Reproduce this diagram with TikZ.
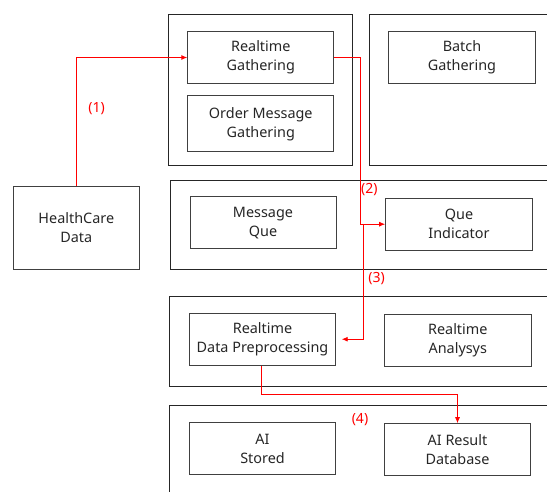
\documentclass[tikz,border=0pt]{standalone}
\usepackage{fontspec}
\setmainfont{Noto Sans}
\usetikzlibrary{arrows.meta}
\begin{document}
\begin{tikzpicture}[x=1pt,y=-1pt,
  outer/.style={draw=black!85,line width=1pt},
  inbox/.style={draw=black!75,line width=1pt,align=center,font=\fontsize{14.4}{19}\selectfont,text=black!85},
  flow/.style={draw=red,line width=0.9pt,-{Latex[length=6pt,width=5pt]}},
  lbl/.style={text=red,font=\fontsize{14}{16}\selectfont}]
\useasboundingbox (0,0) rectangle (547,491);
% outer groups
\draw[outer] (168,14.7) rectangle (352,165);
\draw[outer] (369.3,14) rectangle (560,165);
\draw[outer] (170.5,180) rectangle (560,269.3);
\draw[outer] (169.3,296) rectangle (560,386.7);
\draw[outer] (169.3,405.3) rectangle (560,500);
% inner boxes
\node[inbox,minimum width=146pt,minimum height=51.6pt] (rg) at (260.8,57.5) {Realtime\\Gathering};
\node[inbox,minimum width=146pt,minimum height=55.7pt] (omg) at (260.8,123.8) {Order Message\\Gathering};
\node[inbox,minimum width=146.6pt,minimum height=52pt] (bg) at (462,57.3) {Batch\\Gathering};
\node[inbox,minimum width=126pt,minimum height=83.3pt] (hc) at (76.3,227.7) {HealthCare\\Data};
\node[inbox,minimum width=146pt,minimum height=52pt] (mq) at (263,222.7) {Message\\Que};
\node[inbox,minimum width=146.6pt,minimum height=51.7pt] (qi) at (459,224.2) {Que\\Indicator};
\node[inbox,minimum width=146.4pt,minimum height=52.3pt] (rdp) at (262.5,339.2) {Realtime\\Data Preprocessing};
\node[inbox,minimum width=147pt,minimum height=52.4pt] (ra) at (457.8,340.5) {Realtime\\Analysys};
\node[inbox,minimum width=146.4pt,minimum height=51.6pt] (ais) at (262.5,448.5) {AI\\Stored};
\node[inbox,minimum width=146.4pt,minimum height=52pt] (aidb) at (457.5,449.7) {AI Result\\Database};
% connectors
\coordinate (c1) at (76.7,57.5);
\coordinate (c2a) at (360,57.5);
\coordinate (c2b) at (360,224.2);
\coordinate (c3a) at (363.3,224.2);
\coordinate (c3b) at (363.3,339.2);
\coordinate (c3e) at (341.7,339.2);
\coordinate (c4a) at (261.7,394.3);
\coordinate (c4b) at (457.5,394.3);
\draw[flow] (hc.north -| c1) -- (c1) -- (rg.west);
\draw[flow] (rg.east) -- (c2a) -- (c2b) -- (qi.west);
\draw[flow] (c3a) -- (c3b) -- (c3e);
\draw[flow] (rdp.south -| c4a) -- (c4a) -- (c4b) -- (aidb.north);
% labels
\node[lbl] (l1) at (96.7,109) {(1)};
\node[lbl] (l2) at (369.3,190) {(2)};
\node[lbl] (l3) at (376.7,279) {(3)};
\node[lbl] (l4) at (360,419.3) {(4)};
\end{tikzpicture}
\end{document}
